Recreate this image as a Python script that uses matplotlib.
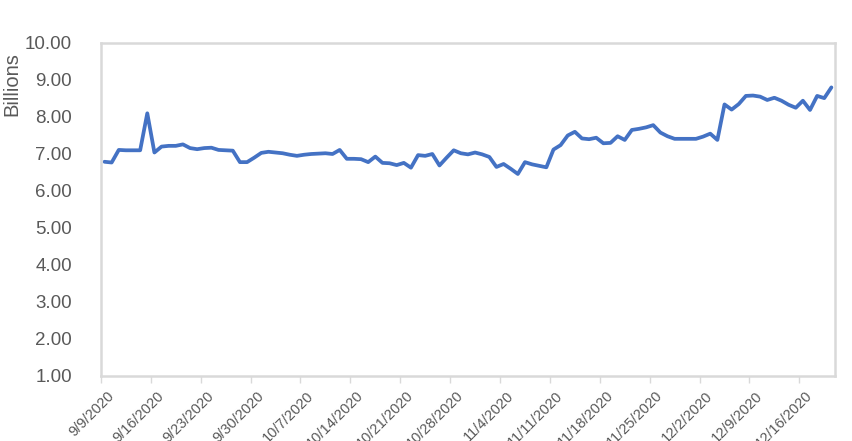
import numpy as np
import pandas as pd
import matplotlib
matplotlib.use('Agg')
import matplotlib.pyplot as plt
import matplotlib.transforms as mtransforms

# daily values (billions), 9/9/2020 .. 12/20/2020
values = [6.79, 6.77, 7.11, 7.10, 7.10, 7.10, 8.10, 7.04, 7.20, 7.22,
          7.22, 7.26, 7.16, 7.13, 7.16, 7.17, 7.11, 7.10, 7.09, 6.78,
          6.78, 6.90, 7.03, 7.06, 7.04, 7.02, 6.98, 6.95, 6.98, 7.00,
          7.01, 7.02, 7.00, 7.11, 6.87, 6.87, 6.86, 6.78, 6.93, 6.76,
          6.75, 6.70, 6.76, 6.63, 6.97, 6.95, 7.00, 6.69, 6.90, 7.10,
          7.02, 6.99, 7.04, 6.99, 6.92, 6.65, 6.73, 6.60, 6.46, 6.78,
          6.72, 6.68, 6.64, 7.12, 7.24, 7.50, 7.60, 7.42, 7.40, 7.44,
          7.29, 7.30, 7.48, 7.38, 7.65, 7.68, 7.72, 7.78, 7.58, 7.48,
          7.41, 7.41, 7.41, 7.41, 7.47, 7.55, 7.38, 8.34, 8.20, 8.35,
          8.57, 8.58, 8.55, 8.46, 8.52, 8.44, 8.33, 8.25, 8.44, 8.19,
          8.57, 8.51, 8.80]
dates = pd.date_range('2020-09-09', periods=len(values), freq='D')
tick_dates = pd.date_range('2020-09-09', '2020-12-16', freq='7D')
tick_labels = ['%d/%d/%d' % (d.month, d.day, d.year) for d in tick_dates]
y_ticks = np.arange(1, 11)

plt.rcParams['font.family'] = ['Liberation Sans', 'DejaVu Sans']

fig = plt.figure(figsize=(8.52, 4.41), dpi=100)
ax = fig.add_axes([0.1185, 0.1474, 0.8615, 0.7551])

day = (dates - dates[0]).days
ax.plot(day, values, color='#4472C4', lw=2.7, solid_joinstyle='round',
        solid_capstyle='round')

ax.set_xlim(-0.5, len(values) - 0.5)
ax.set_ylim(1, 10)

tick_pos = (tick_dates - dates[0]).days - 0.5
ax.set_xticks(tick_pos)
ax.set_xticklabels(tick_labels, rotation=45, ha='right', va='top',
                   rotation_mode='anchor', fontsize=10.5, color='#595959')
ax.tick_params(axis='x', length=5, width=1, color='#d9d9d9', pad=4)
# nudge the date labels a little to the right, like the original
shift = mtransforms.ScaledTranslation(6 / 100, 0, fig.dpi_scale_trans)
for lbl in ax.get_xticklabels():
    lbl.set_transform(lbl.get_transform() + shift)

ax.set_yticks(y_ticks)
ax.set_yticklabels(['%.2f' % v for v in y_ticks], fontsize=13.5, color='#595959')
ax.tick_params(axis='y', length=0, pad=21)

for s in ax.spines.values():
    s.set_color('#d9d9d9')
    s.set_linewidth(1.8)

fig.text(0.014, 0.81, 'Billions', rotation=90, ha='center', va='center',
         fontsize=14.5, color='#595959')

plt.savefig('out.png', dpi=100)
